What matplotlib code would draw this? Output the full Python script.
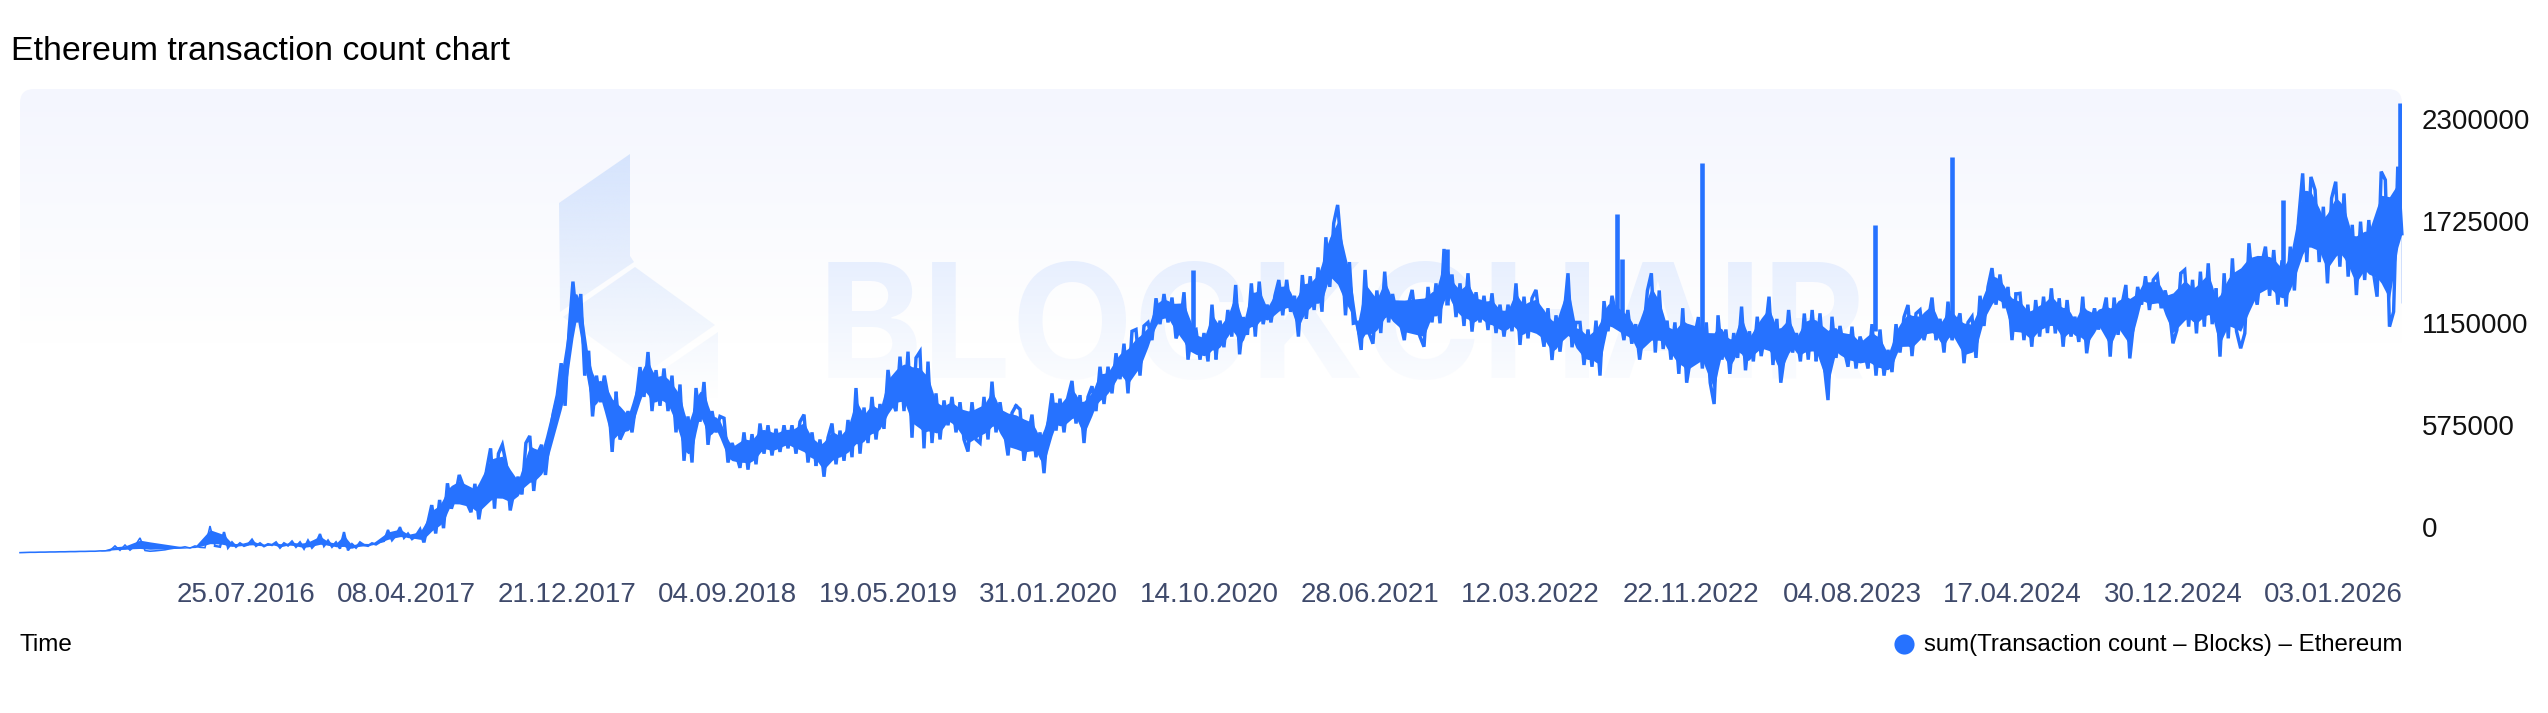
import numpy as np
import matplotlib
matplotlib.use("Agg")
import matplotlib.pyplot as plt
from matplotlib.patches import Polygon, FancyBboxPatch
from matplotlib.transforms import ScaledTranslation

W, H = 2548, 713
LINE = "#2672ff"

# transaction counts in thousands, 320 days per block
counts_a = [2,3,4,4,5,5,6,6,7,7,8,8,9,9,10,10,12,12,14,40,15,45,16,40,85,14,10,12,15,18,24,28,30,35,28,40,32,30,152,40]
counts_b = [35,118,30,60,35,55,40,48,75,40,55,38,50,45,60,30,55,42,65,35,60,25,70,30,55,107,40,70,35,60,25,118,15,50,30,60,45,40,55,48,62,68,130,72,100,146,85,110,78,95]
counts_c = [130,60,170,270,110,299,140,393,250,320,440,380,280,230,390,190,330,470,590,250,560,610,500,240,350,430,330,620,660,350,560,610,440,650,790,890,1070,830,1250,1530,1300,1460,1000,1140,770,1000,850,1000,880,570,900]
counts_d = [640,690,800,680,850,1048,880,1133,800,1031,830,1040,800,1000,680,950,520,770,510,930,740,964,610,800,680,770,760,510,620,560,480,680,470,670,500,730,560,720,550,700,570,720,590,720,560,740,780,510,680,500]
counts_e = [640,430,650,730,500,690,520,750,540,930,560,820,620,880,640,840,700,1032,860,800,1107,800,1135,650,1100,1135,590,1079,620,900,640,860,720,880,680,850,640,572,850,640,620,880,640,966,680,850,700,550,790,830]
counts_f = [810,520,660,780,540,680,450,730,900,690,870,680,880,970,730,890,620,880,940,800,1050,840,1050,900,1126,980,1180,900,1250,1260,1000,1280,1300,1200,1436,1290,1460,1300,1440,1210,1270,1470,1090,1250,1260,1090,1240,1080,1400,1100]
counts_g = [1310,1160,1370,1220,1511,1120,1330,1230,1520,1220,1530,1290,1400,1300,1450,1539,1340,1540,1360,1450,1220,1567,1320,1560,1370,1610,1360,1780,1500,1859,1962,1708,1340,1640,1295,1300,1145,1596,1240,1180,1480,1240,1586,1300,1460,1350,1295,1200,1400,1483,1300]
counts_h = [1220,1163,1500,1300,1520,1295,1714,1420,1570,1330,1520,1280,1577,1248,1470,1300,1450,1257,1464,1240,1400,1220,1400,1250,1520,1173,1445,1210,1436,1483,1300,1163,1380,1088,1340,1135,1340,1577,1160,1300,1300,1060,1260,1050,1310,1000,1420,1250,1450,1340]
counts_i = [1330,1200,1370,1180,1290,1090,1250,1480,1577,1130,1480,1150,1310,1090,1300,1010,1380,960,1100,1220,1330,1040,1300,960,840,1340,1090,1260,1010,1240,1100,1389,1030,1250,1080,1332,1110,1240,1445,1060,1320,960,1120,1370,1130,1240,1080,1350,1090,1370,1090]
counts_j = [1351,1070,862,1332,1100,1280,1150,1050,1276,1040,1220,1150,1040,1290,1000,1260,1000,1145,1020,1290,1130,1330,1398,1110,1350,1370,1200,1300,1440,1200,1320,1130,1417,1200,1280,1351,1070,1300,1332,1100,1450,1280,1500,1606,1400,1570,1380,1500,1200,1460]
counts_k = [1464,1200,1400,1163,1426,1220,1445,1240,1492,1238,1436,1163,1426,1220,1332,1190,1445,1126,1280,1379,1260,1340,1440,1107,1440,1230,1400,1511,1097,1300,1500,1400,1560,1370,1540,1567,1380,1480,1390,1182,1257,1577,1596,1276,1540,1238,1586,1276,1633,1290,1483]
counts_l = [1107,1577,1210,1661,1250,1154,1238,1746,1500,1400,1620,1727,1450,1708,1400,1650,1389,1727,1480,1877,2140,1640,2120,2046,1640,1952,1520,2000,2093,1614,2027,1558,1850,1454,1868,1539,1877,1600,1445,2150,2103,1276,1360,2178,1800]
blocks = [counts_a, counts_b, counts_c, counts_d, counts_e, counts_f,
          counts_g, counts_h, counts_i, counts_j, counts_k, counts_l]
block_days = [0, 320, 640, 960, 1280, 1600, 1920, 2240, 2560, 2880, 3200, 3520, 3811]
block_widths = [1.6, 2.4, 3.4, 3.4, 3.4, 3.4, 3.4, 3.4, 3.4, 3.4, 3.4, 3.4]  # px

# one-day spikes, drawn straight up from their neighbours
spike_days = [1877, 2283, 2555, 2563, 2691, 2968, 3091, 3621, 3808]
spike_base = [1250, 1400, 1300, 1300, 1250, 1250, 1300, 1500, 1800]
spike_top = [1595, 1714, 1911, 1657, 2198, 1849, 2232, 1990, 2537]
tail_day, tail_low, tail_high = 3811, 1407, 1900

tick_days = [361, 618, 875, 1132, 1389, 1646, 1903, 2160, 2417, 2674, 2931, 3188, 3445, 3702]
tick_labels = ["25.07.2016", "08.04.2017", "21.12.2017", "04.09.2018", "19.05.2019",
               "31.01.2020", "14.10.2020", "28.06.2021", "12.03.2022", "22.11.2022",
               "04.08.2023", "17.04.2024", "30.12.2024", "03.01.2026"]
y_ticks = [0, 575, 1150, 1725, 2300]
y_labels = ["0", "575000", "1150000", "1725000", "2300000"]

plt.rcParams["font.family"] = ["Liberation Sans", "DejaVu Sans"]
fig = plt.figure(figsize=(W / 100, H / 100), dpi=100, facecolor="white")

# background layer in pixel coordinates: panel, logo and watermark
bg = fig.add_axes([0, 0, 1, 1], zorder=0)
bg.set_xlim(0, W)
bg.set_ylim(H, 0)
bg.axis("off")

panel_top, panel_fade = 89, 345
shade = np.ones((256, 1, 4))
shade[:, 0, 0] = 244 / 255
shade[:, 0, 1] = 246 / 255
shade[:, 0, 2] = 254 / 255
shade[:, 0, 3] = np.linspace(1, 0, 256)
im = bg.imshow(shade, extent=(20, 2402, panel_fade, panel_top), aspect="auto", zorder=1)
panel = FancyBboxPatch((20, panel_top), 2382, 300, boxstyle="round,pad=0,rounding_size=14",
                       fc="none", ec="none", transform=bg.transData)
bg.add_patch(panel)
im.set_clip_path(panel)

# logo faces
logo_shade = np.ones((256, 1, 4))
logo_shade[:, 0, 0] = 212 / 255
logo_shade[:, 0, 1] = 227 / 255
logo_shade[:, 0, 2] = 253 / 255
logo_shade[:, 0, 3] = np.linspace(0.95, 0, 256)
faces = [[(559, 203), (630, 154), (630, 256), (634, 262), (560, 312)],
         [(563, 317), (635, 267), (715, 325), (643, 375)],
         [(718, 332), (660, 372), (660, 400), (718, 400)]]
for face in faces:
    logo = bg.imshow(logo_shade, extent=(550, 725, 400, 150), aspect="auto", zorder=2)
    poly = Polygon(face, closed=True, fc="none", ec="none", transform=bg.transData)
    bg.add_patch(poly)
    logo.set_clip_path(poly)

bg.text(818, 378, "BLOCKCHAIR", family=["Inter", "Liberation Sans"], weight="bold",
        fontsize=114, color="#e7effe", va="baseline", ha="left", zorder=3)
fade = np.ones((256, 1, 4))
fade[:, 0, 3] = np.linspace(0, 0.85, 256)
bg.imshow(fade, extent=(810, 1880, 385, 258), aspect="auto", zorder=4)
bg.set_xlim(0, W)
bg.set_ylim(H, 0)

# chart
ax = fig.add_axes([20 / W, 1 - 557 / H, 2382 / W, 468 / H], zorder=2)
ax.patch.set_alpha(0)
for side in ax.spines.values():
    side.set_visible(False)

all_x, all_y = [], []
prev_x, prev_y = [], []
for i, values in enumerate(blocks):
    xs = list(np.linspace(block_days[i], block_days[i + 1], len(values), endpoint=i == len(blocks) - 1))
    ax.plot(prev_x + xs, prev_y + list(values), color=LINE, lw=block_widths[i] * 0.72,
            solid_joinstyle="miter", clip_on=False)
    prev_x, prev_y = xs[-1:], list(values[-1:])
    all_x += xs
    all_y += list(values)

# the daily series reads as a solid band: fill part of the way between its
# peaks and troughs, and let the tips stick out as line
all_x = np.array(all_x)
all_y = np.array(all_y, dtype=float)
is_peak = np.r_[True, (all_y[1:-1] >= all_y[:-2]) & (all_y[1:-1] >= all_y[2:]), True]
is_trough = np.r_[True, (all_y[1:-1] <= all_y[:-2]) & (all_y[1:-1] <= all_y[2:]), True]
upper = np.interp(all_x, all_x[is_peak], all_y[is_peak])
lower = np.interp(all_x, all_x[is_trough], all_y[is_trough])
middle = (upper + lower) / 2
ax.fill_between(all_x, middle + 0.65 * (lower - middle), middle + 0.65 * (upper - middle), color=LINE, lw=0)

ax.vlines(spike_days, spike_base, spike_top, color=LINE, lw=3.3)
ax.vlines([tail_day], [tail_low], [tail_high], color=LINE, lw=1)

ax.set_xlim(0, 3811.2)
ax.set_ylim(-22.5, 2615.7)
ax.set_xticks(tick_days)
ax.set_xticklabels(tick_labels, fontsize=20, color="#3f4a6b")
ax.yaxis.tick_right()
ax.set_yticks(y_ticks)
ax.set_yticklabels(y_labels, fontsize=20, color="#111111")
ax.tick_params(axis="both", length=0)
ax.tick_params(axis="x", pad=18)
ax.tick_params(axis="y", pad=14)
shift = ScaledTranslation(0, 26 / 100, fig.dpi_scale_trans)
for lab in ax.get_yticklabels():
    lab.set_transform(lab.get_transform() + shift)

bg.text(11, 51, "Ethereum transaction count chart", fontsize=24.4, color="black", va="center", ha="left", zorder=5)
bg.text(20, 645, "Time", fontsize=17.5, color="black", va="center", ha="left", zorder=5)
bg.text(2402, 645, "sum(Transaction count – Blocks) – Ethereum", fontsize=17.3, color="black",
        va="center", ha="right", zorder=5)
bg.plot([1904], [644], "o", color=LINE, ms=14.5, mew=0, zorder=5)

fig.savefig("out.png", dpi=100)
